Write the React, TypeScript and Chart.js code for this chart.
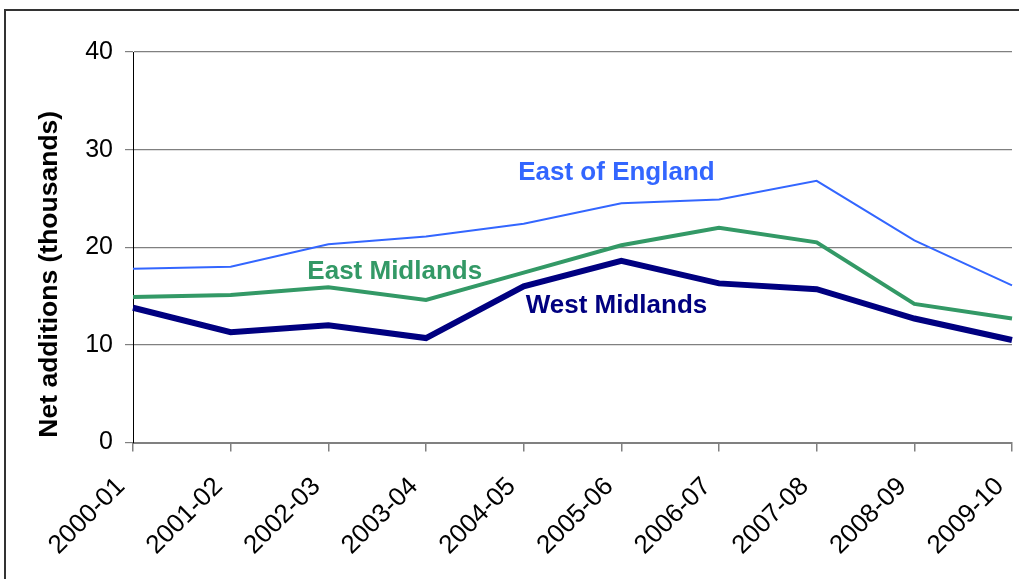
import React, { useEffect, useRef } from "react";
import { Chart, registerables } from "chart.js";

Chart.register(...registerables);

const categories = ["2000-01", "2001-02", "2002-03", "2003-04", "2004-05", "2005-06", "2006-07", "2007-08", "2008-09", "2009-10"];
const eastOfEngland = [17.8, 18.0, 20.3, 21.1, 22.4, 24.5, 24.9, 26.8, 20.7, 16.1];
const eastMidlands = [14.9, 15.1, 15.9, 14.6, 17.4, 20.2, 22.0, 20.5, 14.2, 12.7];
const westMidlands = [13.8, 11.3, 12.0, 10.7, 16.0, 18.6, 16.3, 15.7, 12.7, 10.5];
const seriesNames = ["East of England", "East Midlands", "West Midlands"];
const seriesColors = ["#3366FF", "#339966", "#000080"];
const seriesWidths = [2, 4, 6];
// label anchor: [category index, value]
const labelX = [4.95, 2.68, 4.95];
const labelY = [27.6, 17.5, 14.05];
const yTitle = "Net additions (thousands)";

const FONT = "'Liberation Sans', Arial, sans-serif";

export default function App() {
  const ref = useRef<HTMLCanvasElement | null>(null);
  useEffect(() => {
    if (!ref.current) return;
    const extras = {
      id: "extras",
      beforeDraw(chart: any) {
        const ctx = chart.ctx;
        ctx.save();
        ctx.fillStyle = "#ffffff";
        ctx.fillRect(0, 0, chart.width, chart.height);
        ctx.strokeStyle = "#333333";
        ctx.lineWidth = 2;
        ctx.strokeRect(5, 10, chart.width + 20, chart.height + 20);
        ctx.restore();
      },
      afterDraw(chart: any) {
        const ctx = chart.ctx;
        const xs = chart.scales.x;
        const ys = chart.scales.y;
        ctx.save();
        ctx.font = `bold 26px ${FONT}`;
        ctx.textAlign = "center";
        ctx.textBaseline = "middle";
        seriesNames.forEach((n, i) => {
          ctx.fillStyle = seriesColors[i];
          ctx.fillText(n, xs.getPixelForValue(labelX[i]), ys.getPixelForValue(labelY[i]));
        });
        ctx.translate(49.5, (ys.top + ys.bottom) / 2 + 27);
        ctx.rotate(-Math.PI / 2);
        ctx.fillStyle = "#000000";
        ctx.font = `bold 26.5px ${FONT}`;
        ctx.fillText(yTitle, 0, 0);
        ctx.restore();
      },
    };
    const chart = new Chart(ref.current, {
      type: "line",
      data: {
        labels: categories,
        datasets: [eastOfEngland, eastMidlands, westMidlands].map((d, i) => ({
          label: seriesNames[i],
          data: d,
          borderColor: seriesColors[i],
          backgroundColor: seriesColors[i],
          borderWidth: seriesWidths[i],
          pointRadius: 0,
          tension: 0,
          fill: false,
        })),
      },
      options: {
        responsive: false,
        animation: false,
        layout: { padding: { top: 52, right: 7, bottom: 0, left: 0 } },
        plugins: { legend: { display: false }, tooltip: { enabled: false } },
        scales: {
          x: {
            offset: false,
            grid: { drawOnChartArea: false, drawTicks: true, tickLength: 9, color: "#808080", lineWidth: 1.5 },
            border: { color: "#808080", width: 2 },
            ticks: {
              color: "#000000",
              font: { family: FONT, size: 26 },
              minRotation: 45,
              maxRotation: 45,
              autoSkip: false,
              padding: 20,
              labelOffset: -12,
            },
            afterFit(scale: any) {
              scale.height = 136.5;
              scale.paddingRight = 0;
              scale.paddingLeft = 0;
            },
          },
          y: {
            min: 0,
            max: 40,
            ticks: { stepSize: 10, color: "#000000", font: { family: FONT, size: 25 }, padding: 12 },
            grid: { color: "#808080", lineWidth: 1.2, tickLength: 8 },
            border: { color: "#000000", width: 1 },
            afterFit(scale: any) {
              scale.width = 133;
            },
          },
        },
      },
      plugins: [extras],
    });
    return () => chart.destroy();
  }, []);
  return (
    <div style={{ position: "absolute", left: 0, top: 0, width: 1019, height: 579 }}>
      <canvas ref={ref} width={1019} height={579} />
    </div>
  );
}
